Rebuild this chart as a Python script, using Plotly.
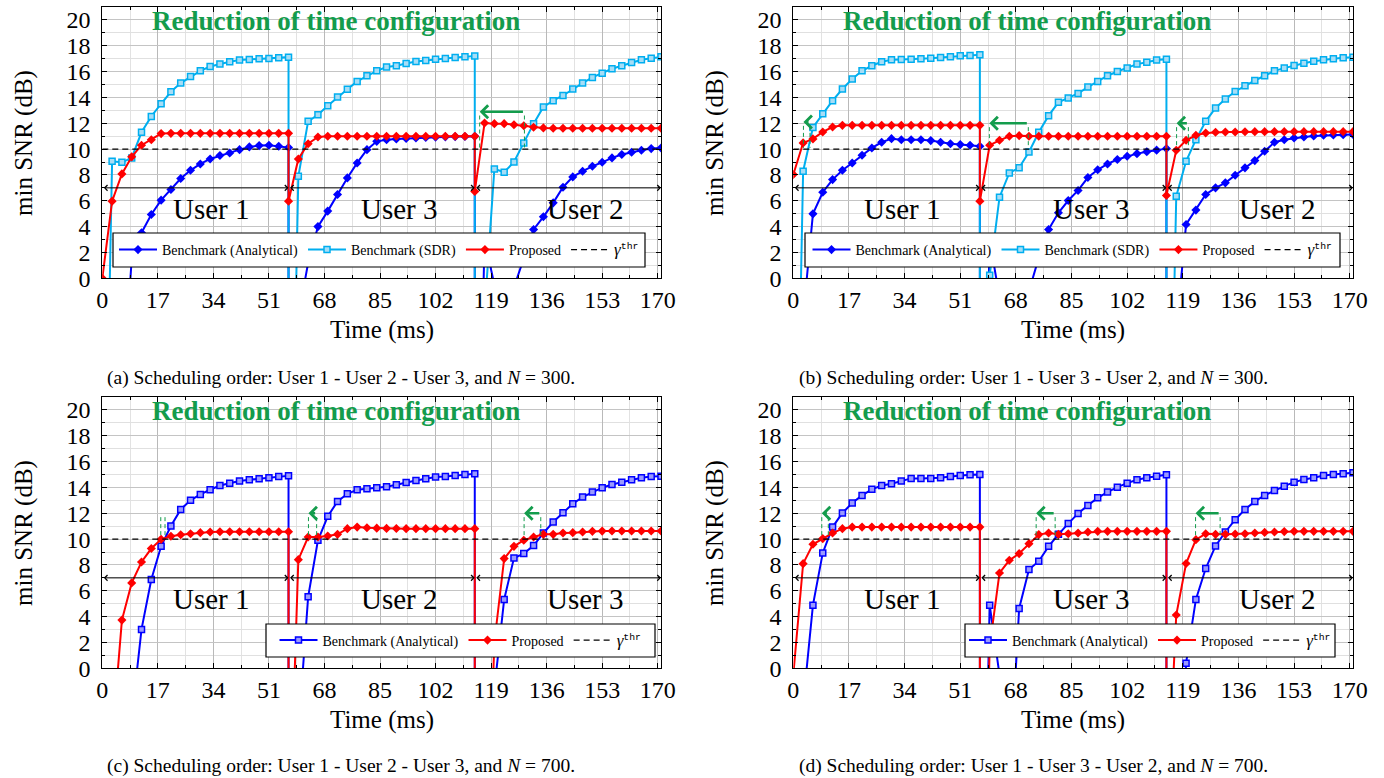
import plotly.graph_objects as go

# ---------------------------------------------------------------------------
# Time grid: every scheduling slot lasts 57 ms, sampled every 3 ms
# ---------------------------------------------------------------------------
SLOT_T = [0, 3, 6, 9, 12, 15, 18, 21, 24, 27, 30, 33, 36, 39, 42, 45, 48, 51, 54, 57]
SLOT_START = [0, 57, 114]
X_MAX = 171
X_TICKS = [0, 17, 34, 51, 68, 85, 102, 119, 136, 153, 170]
Y_TICKS = [0, 2, 4, 6, 8, 10, 12, 14, 16, 18, 20]
GAMMA_THR = 10
USER_LINE_Y = 7

# ---------------------------------------------------------------------------
# min SNR (dB) per slot, (a) N = 300
# ---------------------------------------------------------------------------
A_ANALYTICAL = [
    [-30, -30, -10, 1.5, 3.53, 4.94, 6.05, 6.87, 7.72, 8.36, 8.85, 9.24, 9.5, 9.7, 9.96, 10.17, 10.27, 10.3, 10.22, 10.12],
    [-30, -3, 1.2, 4.0, 5.2, 6.49, 7.77, 8.93, 9.96, 10.6, 10.73, 10.78, 10.82, 10.86, 10.9, 10.93, 10.95, 10.97, 10.98, 11.0],
    [-30, 3.0, -0.5, -3, -0.7, 1.6, 3.78, 4.76, 5.84, 7.05, 7.85, 8.29, 8.67, 8.98, 9.32, 9.58, 9.76, 9.91, 10.04, 10.09],
]
A_SDR = [
    [-30, 9.06, 8.98, 9.32, 11.3, 12.53, 13.51, 14.44, 15.11, 15.62, 16.06, 16.39, 16.58, 16.76, 16.89, 16.94, 16.99, 17.01, 17.07, 17.12],
    [-30, 7.9, 12.15, 12.66, 13.36, 14.03, 14.64, 15.24, 15.68, 16.06, 16.35, 16.45, 16.63, 16.78, 16.86, 16.96, 17.01, 17.09, 17.14, 17.2],
    [-30, -2.6, 8.47, 8.21, 9.01, 10.48, 11.97, 13.26, 13.75, 14.15, 14.65, 15.11, 15.55, 15.88, 16.22, 16.45, 16.7, 16.91, 17.04, 17.14],
]
A_PROPOSED = [
    [0, 5.97, 8.08, 9.4, 10.3, 10.73, 11.2, 11.22, 11.22, 11.22, 11.22, 11.22, 11.22, 11.22, 11.22, 11.22, 11.22, 11.22, 11.22, 11.22],
    [5.97, 9.24, 10.42, 10.94, 11.0, 11.0, 11.0, 11.0, 11.0, 11.0, 11.0, 11.0, 11.0, 11.0, 11.0, 11.0, 11.0, 11.0, 11.0, 11.0],
    [6.72, 12.02, 11.97, 11.97, 11.89, 11.81, 11.69, 11.64, 11.62, 11.62, 11.62, 11.62, 11.62, 11.62, 11.62, 11.62, 11.62, 11.62, 11.62, 11.62],
]

# (b) N = 300
B_ANALYTICAL = [
    [-30, -3, 4.99, 6.66, 7.64, 8.36, 8.93, 9.52, 10.09, 10.53, 10.81, 10.73, 10.73, 10.73, 10.66, 10.53, 10.42, 10.35, 10.3, 10.22],
    [-30, 3.0, -1.5, -20, -20, -1.0, 1.6, 3.78, 5.07, 6.02, 6.8, 7.8, 8.4, 8.85, 9.2, 9.45, 9.65, 9.8, 9.92, 10.04],
    [-30, -4.2, 4.17, 5.28, 6.49, 7.0, 7.39, 7.98, 8.55, 9.11, 9.83, 10.53, 10.73, 10.86, 10.94, 11.02, 11.07, 11.09, 11.12, 11.14],
]
B_SDR = [
    [-30, 8.29, 11.68, 12.74, 13.75, 14.65, 15.42, 16.06, 16.45, 16.76, 16.91, 16.94, 16.96, 16.99, 17.04, 17.09, 17.14, 17.22, 17.25, 17.3],
    [-30, 0.23, 6.28, 8.16, 8.55, 9.78, 11.3, 12.59, 13.62, 13.95, 14.31, 14.8, 15.24, 15.68, 16.01, 16.27, 16.58, 16.73, 16.89, 16.96],
    [-30, 6.36, 9.06, 10.73, 12.15, 13.18, 13.88, 14.46, 14.9, 15.31, 15.68, 16.06, 16.27, 16.47, 16.65, 16.8, 16.91, 16.99, 17.07, 17.12],
]
B_PROPOSED = [
    [8.03, 10.48, 10.79, 11.33, 11.71, 11.84, 11.84, 11.84, 11.84, 11.84, 11.84, 11.84, 11.84, 11.84, 11.84, 11.84, 11.84, 11.84, 11.84, 11.84],
    [5.97, 10.3, 10.68, 10.99, 11.04, 11.0, 11.0, 11.0, 11.0, 11.0, 11.0, 11.0, 11.0, 11.0, 11.0, 11.0, 11.0, 11.0, 11.0, 11.0],
    [6.41, 9.91, 10.68, 11.07, 11.25, 11.3, 11.32, 11.33, 11.34, 11.35, 11.35, 11.35, 11.35, 11.35, 11.35, 11.35, 11.35, 11.35, 11.35, 11.35],
]

# (c) N = 700
C_ANALYTICAL = [
    [-30, -30, -30, -3.9, 3.01, 6.87, 9.44, 11.01, 12.3, 13.0, 13.46, 13.82, 14.15, 14.33, 14.49, 14.59, 14.67, 14.75, 14.85, 14.9],
    [-30, -5, 5.53, 9.91, 11.76, 12.92, 13.51, 13.82, 13.9, 13.98, 14.06, 14.2, 14.39, 14.54, 14.67, 14.8, 14.84, 14.93, 15.0, 15.06],
    [-30, -30, -1.6, 5.33, 8.54, 8.88, 9.5, 10.47, 11.32, 12.05, 12.74, 13.25, 13.64, 13.98, 14.23, 14.41, 14.59, 14.75, 14.85, 14.87],
]
C_PROPOSED = [
    [-30, -5.6, 3.73, 6.61, 8.23, 9.27, 9.98, 10.22, 10.34, 10.42, 10.5, 10.55, 10.57, 10.57, 10.57, 10.57, 10.57, 10.57, 10.57, 10.57],
    [-15, 8.41, 10.16, 10.16, 10.24, 10.37, 10.81, 10.93, 10.88, 10.85, 10.83, 10.82, 10.81, 10.81, 10.81, 10.81, 10.81, 10.81, 10.81, 10.81],
    [-30, -20, 2.0, 8.49, 9.44, 9.91, 10.16, 10.37, 10.37, 10.47, 10.5, 10.55, 10.6, 10.62, 10.63, 10.63, 10.63, 10.63, 10.63, 10.63],
]

# (d) N = 700
D_ANALYTICAL = [
    [-30, -2.8, 4.89, 8.93, 10.93, 12.02, 12.79, 13.38, 13.85, 14.15, 14.28, 14.49, 14.7, 14.7, 14.7, 14.75, 14.85, 14.93, 14.98, 15.0],
    [-30, 4.89, -0.5, -9.3, 4.63, 7.64, 8.29, 9.44, 10.37, 11.2, 11.99, 12.61, 13.2, 13.64, 14.02, 14.33, 14.59, 14.75, 14.87, 14.98],
    [-30, -20, 0.4, 5.33, 7.72, 9.47, 10.55, 11.5, 12.3, 12.92, 13.38, 13.77, 14.1, 14.41, 14.62, 14.75, 14.93, 15.0, 15.06, 15.14],
]
D_PROPOSED = [
    [-0.5, 8.1, 9.6, 10.04, 10.47, 10.81, 10.93, 10.93, 10.93, 10.93, 10.93, 10.93, 10.93, 10.93, 10.93, 10.93, 10.93, 10.93, 10.93, 10.93],
    [-30, 1.7, 7.38, 8.36, 8.88, 9.65, 10.35, 10.47, 10.37, 10.42, 10.47, 10.55, 10.6, 10.6, 10.6, 10.6, 10.6, 10.6, 10.6, 10.6],
    [-12, 4.12, 8.11, 9.96, 10.42, 10.37, 10.37, 10.4, 10.42, 10.47, 10.52, 10.55, 10.58, 10.6, 10.6, 10.6, 10.6, 10.6, 10.6, 10.6],
]

# slot labels and time-reduction markers (left end, right end, arrow height)
A_USERS = ["User 1", "User 3", "User 2"]
B_USERS = ["User 1", "User 3", "User 2"]
C_USERS = ["User 1", "User 2", "User 3"]
D_USERS = ["User 1", "User 3", "User 2"]
USER_LABEL_X = [33.5, 91, 148]
USER_LABEL_Y = 5.4

A_REDUCTION = [(115.5, 129.2, 12.9)]
B_REDUCTION = [(3.1, 5.1, 12.1), (59.9, 71.8, 12.0), (117.1, 120.7, 12.0)]
C_REDUCTION = [(17.9, 19.2, 12.0), (63.1, 65.6, 12.0), (129.1, 134.2, 12.0)]
D_REDUCTION = [(8.7, 10.7, 12.0), (74.2, 80.0, 12.0), (122.9, 130.4, 12.0)]

CAPTIONS = [
    "(a) Scheduling order: User 1 - User 2 - User 3, and <i>N</i> = 300.",
    "(b) Scheduling order: User 1 - User 3 - User 2, and <i>N</i> = 300.",
    "(c) Scheduling order: User 1 - User 2 - User 3, and <i>N</i> = 700.",
    "(d) Scheduling order: User 1 - User 3 - User 2, and <i>N</i> = 700.",
]
BANNER = "Reduction of time configuration"

# ---------------------------------------------------------------------------
# Styling
# ---------------------------------------------------------------------------
W, H = 1384, 778
SERIF = "Liberation Serif, Times New Roman, serif"
BLUE = "#0000FF"
SKY = "#00AEEF"
RED = "#FF0000"
GREEN = "#139C4C"

# panel boxes in pixels: (left, right, top, bottom)
PANELS = [
    (102.3, 661.0, 7.0, 278.3),
    (793.3, 1353.0, 7.0, 278.3),
    (102.3, 661.0, 397.0, 668.3),
    (793.3, 1353.0, 397.0, 668.3),
]
# legend boxes in pixels: (left, right, top, bottom)
LEGEND_BOX = [(113, 645, 233, 267), (805, 1340, 233, 267), (266, 655, 624, 657), (965, 1335, 624, 657)]
CAPTION_POS = [(341, 378), (1033, 378), (341, 766), (1033, 766)]


def px_x(p):
    return p / W


def px_y(p):
    return 1 - p / H


def slot_x():
    xs = []
    for s in SLOT_START:
        xs.extend([s + t for t in SLOT_T])
    return xs


def flat(series):
    out = []
    for seg in series:
        out.extend(seg)
    return out


fig = go.Figure()
X_ALL = slot_x()

panels = [
    dict(analytical=A_ANALYTICAL, sdr=A_SDR, proposed=A_PROPOSED, users=A_USERS,
         red=A_REDUCTION, amark="diamond"),
    dict(analytical=B_ANALYTICAL, sdr=B_SDR, proposed=B_PROPOSED, users=B_USERS,
         red=B_REDUCTION, amark="diamond"),
    dict(analytical=C_ANALYTICAL, sdr=None, proposed=C_PROPOSED, users=C_USERS,
         red=C_REDUCTION, amark="square"),
    dict(analytical=D_ANALYTICAL, sdr=None, proposed=D_PROPOSED, users=D_USERS,
         red=D_REDUCTION, amark="square"),
]

annotations = []
shapes = []
layout_axes = {}
legends = {}

for i, p in enumerate(panels):
    n = i + 1
    xa = "x" if n == 1 else f"x{n}"
    ya = "y" if n == 1 else f"y{n}"
    leg = "legend" if n == 1 else f"legend{n}"

    if p["amark"] == "diamond":
        amarker = dict(symbol="diamond", size=7, color=BLUE, line=dict(width=0))
    else:
        amarker = dict(symbol="square", size=6, color="#9A9AFF", line=dict(color=BLUE, width=1.5))

    fig.add_trace(go.Scatter(
        x=X_ALL, y=flat(p["analytical"]), mode="lines+markers",
        name="Benchmark (Analytical)", line=dict(color=BLUE, width=2),
        marker=amarker, xaxis=xa, yaxis=ya, legend=leg))
    if p["sdr"] is not None:
        fig.add_trace(go.Scatter(
            x=X_ALL, y=flat(p["sdr"]), mode="lines+markers",
            name="Benchmark (SDR)", line=dict(color=SKY, width=2),
            marker=dict(symbol="square", size=6, color="#A6DDF6", line=dict(color=SKY, width=1.5)),
            xaxis=xa, yaxis=ya, legend=leg))
    fig.add_trace(go.Scatter(
        x=X_ALL, y=flat(p["proposed"]), mode="lines+markers",
        name="Proposed", line=dict(color=RED, width=2),
        marker=dict(symbol="diamond", size=7, color=RED),
        xaxis=xa, yaxis=ya, legend=leg))
    fig.add_trace(go.Scatter(
        x=[0, X_MAX], y=[GAMMA_THR, GAMMA_THR], mode="lines",
        name='<span style="font-size:17px"><i>γ</i></span><sup><span style="font-family:Liberation Mono">thr</span></sup>',
        line=dict(color="black", width=1.2, dash="6px,4px"),
        xaxis=xa, yaxis=ya, legend=leg))

    left, right, top, bottom = PANELS[i]
    axis_font = dict(family=SERIF, size=24, color="black")
    layout_axes["xaxis" if n == 1 else f"xaxis{n}"] = dict(
        domain=[px_x(left), px_x(right)], anchor=ya, range=[0, X_MAX], automargin=False,
        tickmode="array", tickvals=X_TICKS, ticktext=[str(v) for v in X_TICKS],
        showline=True, linecolor="black", linewidth=1, mirror="allticks",
        ticks="inside", ticklen=5, tickcolor="black",
        showgrid=True, gridcolor="#B9B9B9", gridwidth=1, zeroline=False,
        tickfont=axis_font,
        minor=dict(dtick=8.5, tick0=0, showgrid=True, gridcolor="#E2E2E2",
                   ticks="inside", ticklen=3, tickcolor="black"),
    )
    layout_axes["yaxis" if n == 1 else f"yaxis{n}"] = dict(
        domain=[px_y(bottom), px_y(top)], anchor=xa, range=[0, 21], automargin=False,
        tickmode="array", tickvals=Y_TICKS, ticktext=[str(v) for v in Y_TICKS],
        showline=True, linecolor="black", linewidth=1, mirror="allticks",
        ticks="inside", ticklen=5, tickcolor="black", ticklabelstandoff=6,
        showgrid=True, gridcolor="#C4C4C4", gridwidth=1, zeroline=False,
        tickfont=axis_font,
        minor=dict(dtick=1, tick0=0, showgrid=True, gridcolor="#E0E0E0",
                   ticks="inside", ticklen=3, tickcolor="black"),
    )

    # slot separators with double arrows at y = 7
    for k, s in enumerate(SLOT_START):
        e = s + SLOT_T[-1]
        annotations.append(dict(
            x=e, y=USER_LINE_Y, ax=s, ay=USER_LINE_Y, xref=xa, yref=ya, axref=xa, ayref=ya,
            text="", showarrow=True, arrowside="end+start", arrowhead=4, startarrowhead=4,
            arrowsize=1.1, startarrowsize=1.1, arrowwidth=1, arrowcolor="black"))
        annotations.append(dict(
            x=USER_LABEL_X[k], y=USER_LABEL_Y, xref=xa, yref=ya, text=p["users"][k],
            xanchor="center", yanchor="middle",
            showarrow=False, font=dict(family=SERIF, size=29, color="black")))

    # time-configuration reduction markers
    for (xl, xr, yv) in p["red"]:
        for xv in (xl, xr):
            shapes.append(dict(type="line", xref=xa, yref=ya, x0=xv, x1=xv, y0=yv - 0.3, y1=10.1,
                               line=dict(color=GREEN, width=1, dash="4px,3px")))
        annotations.append(dict(
            x=xl, y=yv, ax=xr, ay=yv, xref=xa, yref=ya, axref=xa, ayref=ya,
            text="", showarrow=True, arrowhead=4, arrowsize=1.0, arrowwidth=2.5,
            arrowcolor=GREEN))

    annotations.append(dict(
        x=71.5, y=19.9, xref=xa, yref=ya, text=f"<b>{BANNER}</b>", showarrow=False,
        xanchor="center", yanchor="middle",
        font=dict(family=SERIF, size=27, color=GREEN)))

    # axis titles and caption
    annotations.append(dict(
        x=px_x(left - 79), y=px_y((top + bottom) / 2), xref="paper", yref="paper",
        xanchor="center", yanchor="middle",
        text="min SNR (dB)", textangle=-90, showarrow=False,
        font=dict(family=SERIF, size=25, color="black")))
    annotations.append(dict(
        x=px_x((left + right) / 2), y=px_y(bottom + 52), xref="paper", yref="paper",
        xanchor="center", yanchor="middle",
        text="Time (ms)", showarrow=False, font=dict(family=SERIF, size=25, color="black")))
    cx, cy = CAPTION_POS[i]
    annotations.append(dict(
        x=px_x(cx), y=px_y(cy), xref="paper", yref="paper", text=CAPTIONS[i],
        xanchor="center", yanchor="middle",
        showarrow=False, font=dict(family=SERIF, size=19.5, color="black")))

    # legend frame (white box that hides the curves underneath)
    bl, br, bt, bb = LEGEND_BOX[i]
    shapes.append(dict(type="rect", xref="paper", yref="paper", layer="above",
                       x0=px_x(bl), x1=px_x(br), y0=px_y(bb), y1=px_y(bt),
                       fillcolor="white", line=dict(color="black", width=1.2)))
    legends[leg] = dict(
        x=px_x((bl + br) / 2), y=px_y((bt + bb) / 2), xanchor="center", yanchor="middle",
        orientation="h", bgcolor="rgba(0,0,0,0)", borderwidth=0,
        font=dict(family=SERIF, size=14, color="black"), itemwidth=38)

fig.update_layout(
    width=W, height=H, margin=dict(l=0, r=0, t=0, b=0, autoexpand=False),
    paper_bgcolor="white", plot_bgcolor="white",
    showlegend=True, annotations=annotations, shapes=shapes,
    **layout_axes, **legends)

fig.write_html("out.html")
